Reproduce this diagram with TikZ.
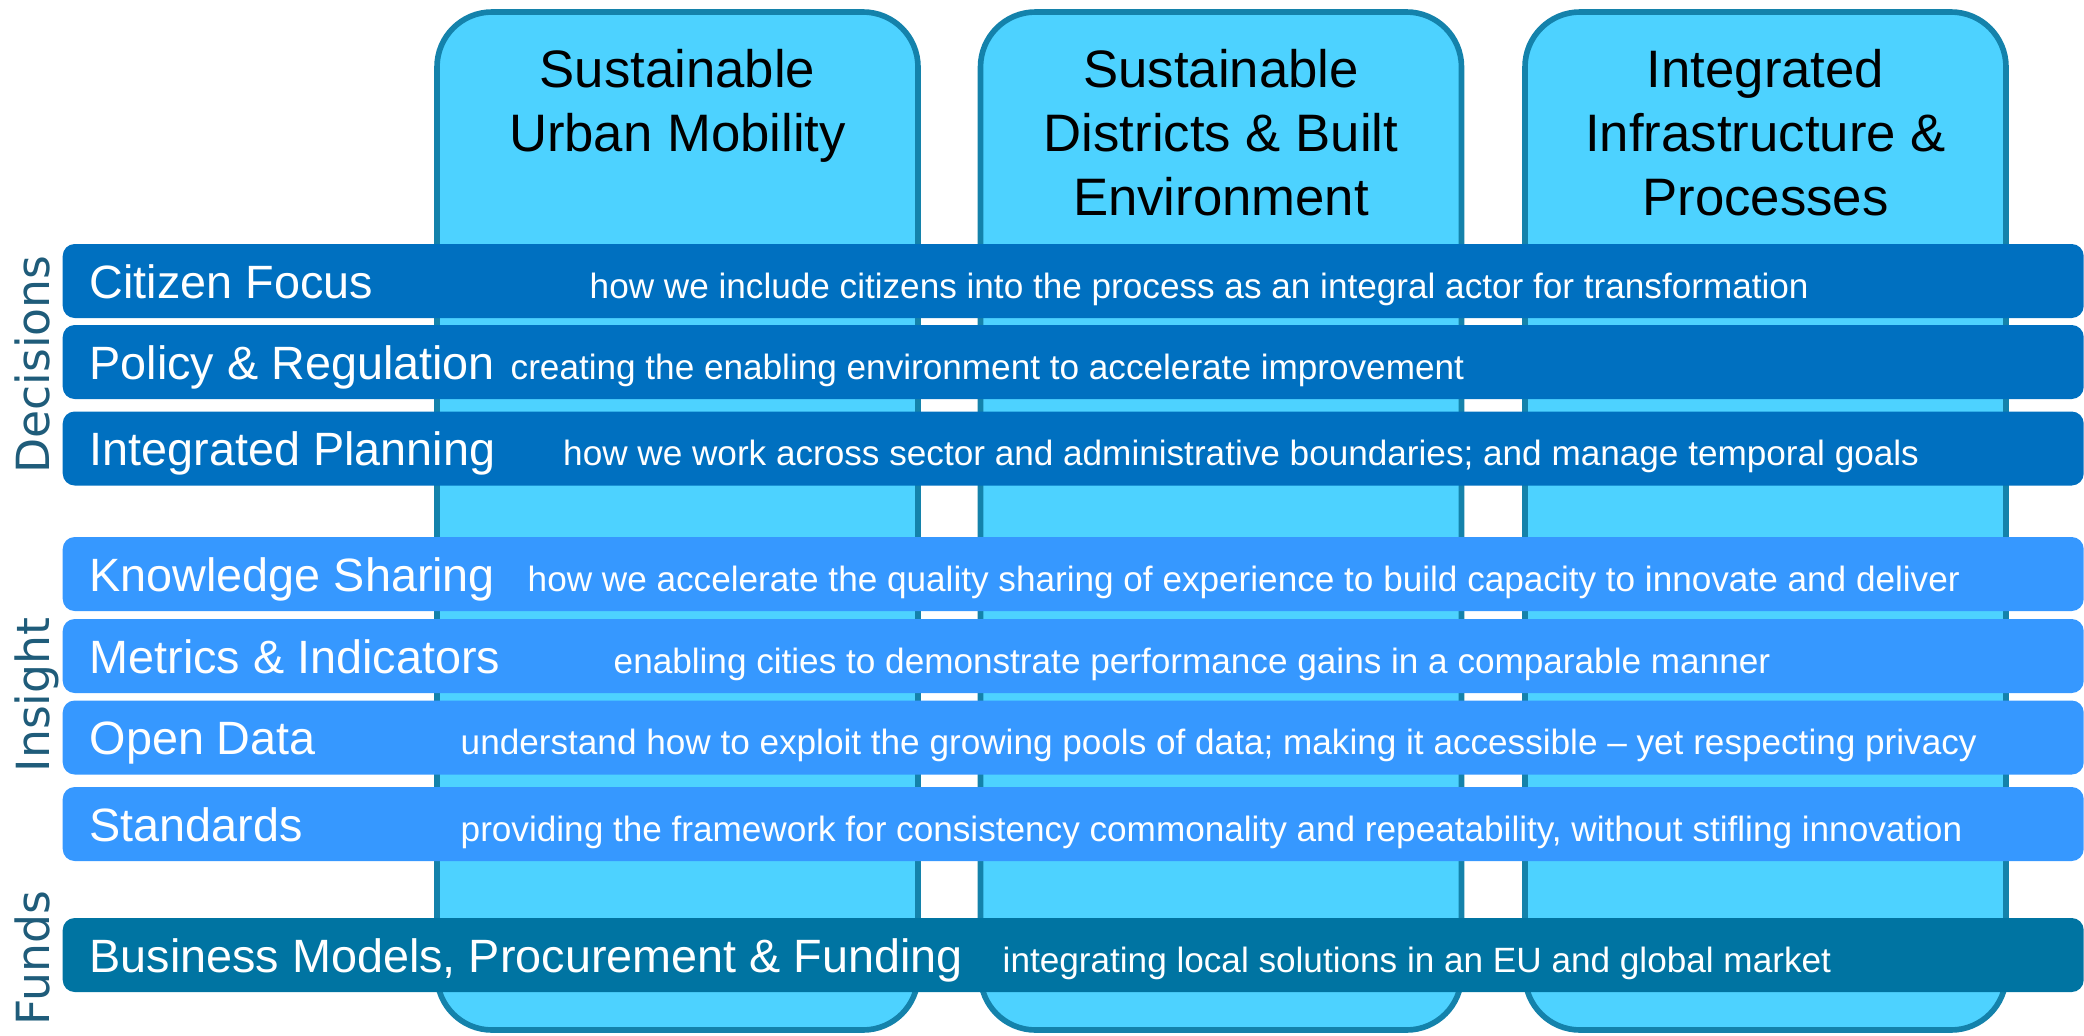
\documentclass[tikz,border=0pt]{standalone}
\usepackage{fontspec}
\setmainfont{Liberation Sans}
\newfontfamily\ladofont{DejaVu Sans}
\definecolor{colfill}{HTML}{4DD2FF}
\definecolor{colborde}{HTML}{1482AB}
\definecolor{decazul}{HTML}{0070C0}
\definecolor{insazul}{HTML}{3698FF}
\definecolor{fonazul}{HTML}{0074A2}
\definecolor{ladotxt}{HTML}{1F5C7A}
\begin{document}
\begin{tikzpicture}[
    columna/.style={draw=colborde, line width=1.6pt, fill=colfill, rounded corners=0.55cm,
      minimum width=4.81cm, minimum height=10.18cm, inner sep=0pt},
    titulo/.style={anchor=north, inner sep=0pt, align=center, font=\fontsize{15}{18.3}\selectfont},
    barra/.style={anchor=west, minimum width=20.21cm, minimum height=0.74cm, inner sep=0pt,
      rounded corners=0.12cm},
    barradec/.style={barra, fill=decazul},
    barrains/.style={barra, fill=insazul},
    barrafon/.style={barra, fill=fonazul},
    etiqueta/.style={anchor=base west, inner sep=0pt, text=white, font=\fontsize{13.3}{15}\selectfont},
    texto/.style={anchor=base west, inner sep=0pt, text=white, font=\fontsize{10}{12}\selectfont},
    lado/.style={rotate=90, anchor=base, inner sep=0pt, text=ladotxt, font=\ladofont\fontsize{13}{15}\selectfont}]
    \useasboundingbox (0,0) rectangle (20.84,10.35);
    % columnas
    \node[columna] (movilidad) at (6.775,5.14) {};
    \node[columna] (distritos) at (12.21,5.14) {};
    \node[columna] (infra) at (17.655,5.14) {};
    \node[titulo] (titmov) at ([yshift=-0.39cm]movilidad.north) {Sustainable\\Urban Mobility};
    \node[titulo] (titdis) at ([yshift=-0.39cm]distritos.north) {Sustainable\\Districts \& Built\\Environment};
    \node[titulo] (titinf) at ([yshift=-0.39cm]infra.north) {Integrated\\Infrastructure \&\\Processes};
    % decisiones
    \node[barradec] (ciudad) at (0.62,7.54) {};
    \node[etiqueta] (lblciudad) at ([xshift=0.27cm,yshift=-0.17cm]ciudad.west) {Citizen Focus};
    \node[texto] (txtciudad) at (5.89,7.37) {how we include citizens into the process as an integral actor for transformation};
    \node[barradec] (politica) at (0.62,6.73) {};
    \node[etiqueta] (lblpolitica) at ([xshift=0.27cm,yshift=-0.17cm]politica.west) {Policy \& Regulation};
    \node[texto] (txtpolitica) at (5.10,6.56) {creating the enabling environment to accelerate improvement};
    \node[barradec] (plan) at (0.62,5.865) {};
    \node[etiqueta] (lblplan) at ([xshift=0.27cm,yshift=-0.17cm]plan.west) {Integrated Planning};
    \node[texto] (txtplan) at (5.625,5.695) {how we work across sector and administrative boundaries; and manage temporal goals};
    % insight
    \node[barrains] (saber) at (0.62,4.61) {};
    \node[etiqueta] (lblsaber) at ([xshift=0.27cm,yshift=-0.17cm]saber.west) {Knowledge Sharing};
    \node[texto] (txtsaber) at (5.27,4.44) {how we accelerate the quality sharing of experience to build capacity to innovate and deliver};
    \node[barrains] (metricas) at (0.62,3.79) {};
    \node[etiqueta] (lblmetricas) at ([xshift=0.27cm,yshift=-0.17cm]metricas.west) {Metrics \& Indicators};
    \node[texto] (txtmetricas) at (6.13,3.62) {enabling cities to demonstrate performance gains in a comparable manner};
    \node[barrains] (datos) at (0.62,2.975) {};
    \node[etiqueta] (lbldatos) at ([xshift=0.27cm,yshift=-0.17cm]datos.west) {Open Data};
    \node[texto] (txtdatos) at (4.60,2.805) {understand how to exploit the growing pools of data; making it accessible -- yet respecting privacy};
    \node[barrains] (normas) at (0.62,2.11) {};
    \node[etiqueta] (lblnormas) at ([xshift=0.27cm,yshift=-0.17cm]normas.west) {Standards};
    \node[texto] (txtnormas) at (4.60,1.94) {providing the framework for consistency commonality and repeatability, without stifling innovation};
    % fondos
    \node[barrafon] (negocio) at (0.62,0.80) {};
    \node[etiqueta] (lblnegocio) at ([xshift=0.27cm,yshift=-0.17cm]negocio.west) {Business Models, Procurement \& Funding};
    \node[texto] (txtnegocio) at (10.02,0.63) {integrating local solutions in an EU and global market};
    % rotulos laterales
    \node[lado] (decisiones) at (0.49,6.705) {Decisions};
    \node[lado] (percepcion) at (0.49,3.40) {Insight};
    \node[lado] (fondos) at (0.49,0.77) {Funds};
\end{tikzpicture}
\end{document}
